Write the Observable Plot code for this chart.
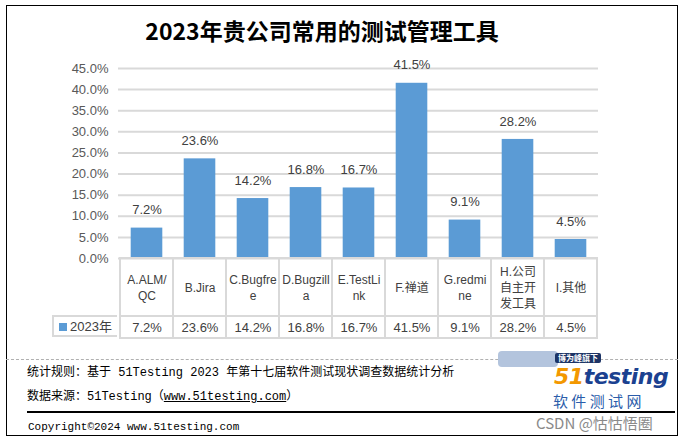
<!DOCTYPE html>
<html>
<head>
<meta charset="utf-8">
<script src="https://cdn.jsdelivr.net/npm/d3@7"></script>
<script src="https://cdn.jsdelivr.net/npm/@observablehq/plot@0.6"></script>
<style>
  html, body { margin: 0; padding: 0; background: #fff; }
  #wrap { position: relative; width: 684px; height: 442px; overflow: hidden; background: #fff; }
  #wrap svg { position: absolute; left: 0; top: 0; }
  .abs { position: absolute; white-space: nowrap; }
  .foot { font-family: "Liberation Mono", "Noto Sans CJK SC", monospace; font-size: 12px; color: #000; }
</style>
</head>
<body>
<div id="wrap"></div>
<script>
// ---- data ----
const categories = ["A.ALM/QC", "B.Jira", "C.Bugfree", "D.Bugzilla", "E.TestLink", "F.禅道", "G.redmine", "H.公司自主开发工具", "I.其他"];
const axisLabels = ["A.ALM/\nQC", "B.Jira", "C.Bugfre\ne", "D.Bugzill\na", "E.TestLi\nnk", "F.禅道", "G.redmi\nne", "H.公司\n自主开\n发工具", "I.其他"];
const values2023 = [7.2, 23.6, 14.2, 16.8, 16.7, 41.5, 9.1, 28.2, 4.5];
const yTicks = [0, 5, 10, 15, 20, 25, 30, 35, 40, 45];
const seriesName = "2023年";
const title = "2023年贵公司常用的测试管理工具";

const data = categories.map((c, i) => ({cat: c, label: axisLabels[i], value: values2023[i]}));
const fmt = v => v.toFixed(1) + "%";

const barColor = "#5B9BD5";
const lineColor = "#d9d9d9";
const textColor = "#404040";
const font = "'Liberation Sans', 'Noto Sans CJK SC', sans-serif";

// table rows expressed in y-units below zero (px per unit = 190/45)
const pxPerUnit = 190 / 45;
const labelRowBottom = -58 / pxPerUnit;
const valueRowBottom = -80 / pxPerUnit;

const chart = Plot.plot({
  width: 684,
  height: 442,
  marginLeft: 118,
  marginRight: 86,
  marginTop: 68,
  marginBottom: 184,
  style: {fontFamily: font, background: "transparent", overflow: "visible"},
  x: {type: "band", domain: categories, padding: 0, axis: null},
  y: {domain: [0, 45], axis: null, label: null},
  marks: [
    Plot.ruleY(yTicks, {stroke: lineColor, strokeWidth: 2}),
    Plot.axisY(yTicks, {tickSize: 0, tickPadding: 10, tickFormat: fmt, fontSize: 13, fill: "#595959", stroke: null, label: null}),
    Plot.barY(data, {x: "cat", y: "value", fill: barColor, insetLeft: 10.7, insetRight: 10.7}),
    Plot.text(data, {x: "cat", y: "value", text: d => fmt(d.value), lineAnchor: "middle", dy: -18, fontSize: 13, fill: textColor}),
    // table: label row
    Plot.barY(data, {x: "cat", y1: 0, y2: labelRowBottom, fill: "none", stroke: lineColor, strokeWidth: 2}),
    Plot.text(data, {x: "cat", y: 0, text: "label", dy: 28.5, lineAnchor: "middle", lineHeight: 1.35, fontSize: 12, fill: textColor}),
    // table: value row
    Plot.barY(data, {x: "cat", y1: labelRowBottom, y2: valueRowBottom, fill: "none", stroke: lineColor, strokeWidth: 2}),
    Plot.text(data, {x: "cat", y: 0, text: d => fmt(d.value), dy: 69, lineAnchor: "middle", fontSize: 13, fill: textColor})
  ]
});

const wrap = document.getElementById("wrap");
wrap.appendChild(chart);

function add(html, css, cls) {
  const d = document.createElement("div");
  d.className = "abs" + (cls ? " " + cls : "");
  d.innerHTML = html;
  Object.assign(d.style, css);
  wrap.appendChild(d);
  return d;
}

// outer border
add("", {left: "6px", top: "5px", width: "670px", height: "429px", border: "1.5px solid #000"});
// title
add(title, {left: "0px", top: "14px", width: "644px", textAlign: "center", fontFamily: "'Noto Sans CJK SC', sans-serif", fontWeight: "bold", fontSize: "23px", color: "#000", lineHeight: "32px"});
// legend cell in table
add(`<span style="display:inline-block;width:8px;height:8px;background:${barColor};margin-right:3px;vertical-align:0px"></span>${seriesName}`,
  {left: "52px", top: "315px", width: "65px", height: "22px", borderLeft: "2px solid " + lineColor, borderTop: "2px solid " + lineColor, borderBottom: "2px solid " + lineColor, boxSizing: "border-box", fontFamily: font, fontSize: "13px", color: textColor, lineHeight: "20px", paddingLeft: "5px"});

// footer
add("", {left: "6px", top: "359px", width: "672px", height: "0px", borderTop: "1px dashed #b0b0b0"});
add("统计规则：基于 51Testing 2023 年第十七届软件测试现状调查数据统计分析", {left: "27px", top: "365px", lineHeight: "16px"}, "foot");
add("数据来源：51Testing（<span style='text-decoration:underline'>www.51testing.com</span>）", {left: "27px", top: "389px", lineHeight: "16px"}, "foot");
add("", {left: "27px", top: "411px", width: "648px", height: "0px", borderTop: "2.5px solid #000"});
add("Copyright©2024 www.51testing.com", {left: "28px", top: "420px", lineHeight: "14px", fontSize: "11px"}, "foot");

// logo watermark
add("", {left: "498px", top: "351px", width: "60px", height: "16px", background: "#b3c4dd", borderRadius: "4px"});
add("博为峰旗下", {left: "555px", top: "353px", padding: "0 3px", fontFamily: "'Noto Sans CJK SC', sans-serif", fontWeight: "bold", fontSize: "8px", lineHeight: "10px", color: "#fff", background: "#1d3466", borderRadius: "2px"});
add("<span style='color:#f39800'>51</span><span style='color:#1b4190'>testing</span>", {left: "554px", top: "365px", fontFamily: "'DejaVu Sans', sans-serif", fontWeight: "bold", fontStyle: "italic", fontSize: "22px", lineHeight: "24px", letterSpacing: "-0.5px"});
add("软 件 测 试 网", {left: "553px", top: "392px", fontFamily: "'Noto Sans CJK SC', sans-serif", fontSize: "15px", lineHeight: "17px", color: "#2a5caa"});
add("CSDN @怙怙悟圈", {left: "536px", top: "414px", fontFamily: "'Noto Sans CJK SC', sans-serif", fontSize: "15px", lineHeight: "18px", color: "#8a8a8a"});
</script>
</body>
</html>
